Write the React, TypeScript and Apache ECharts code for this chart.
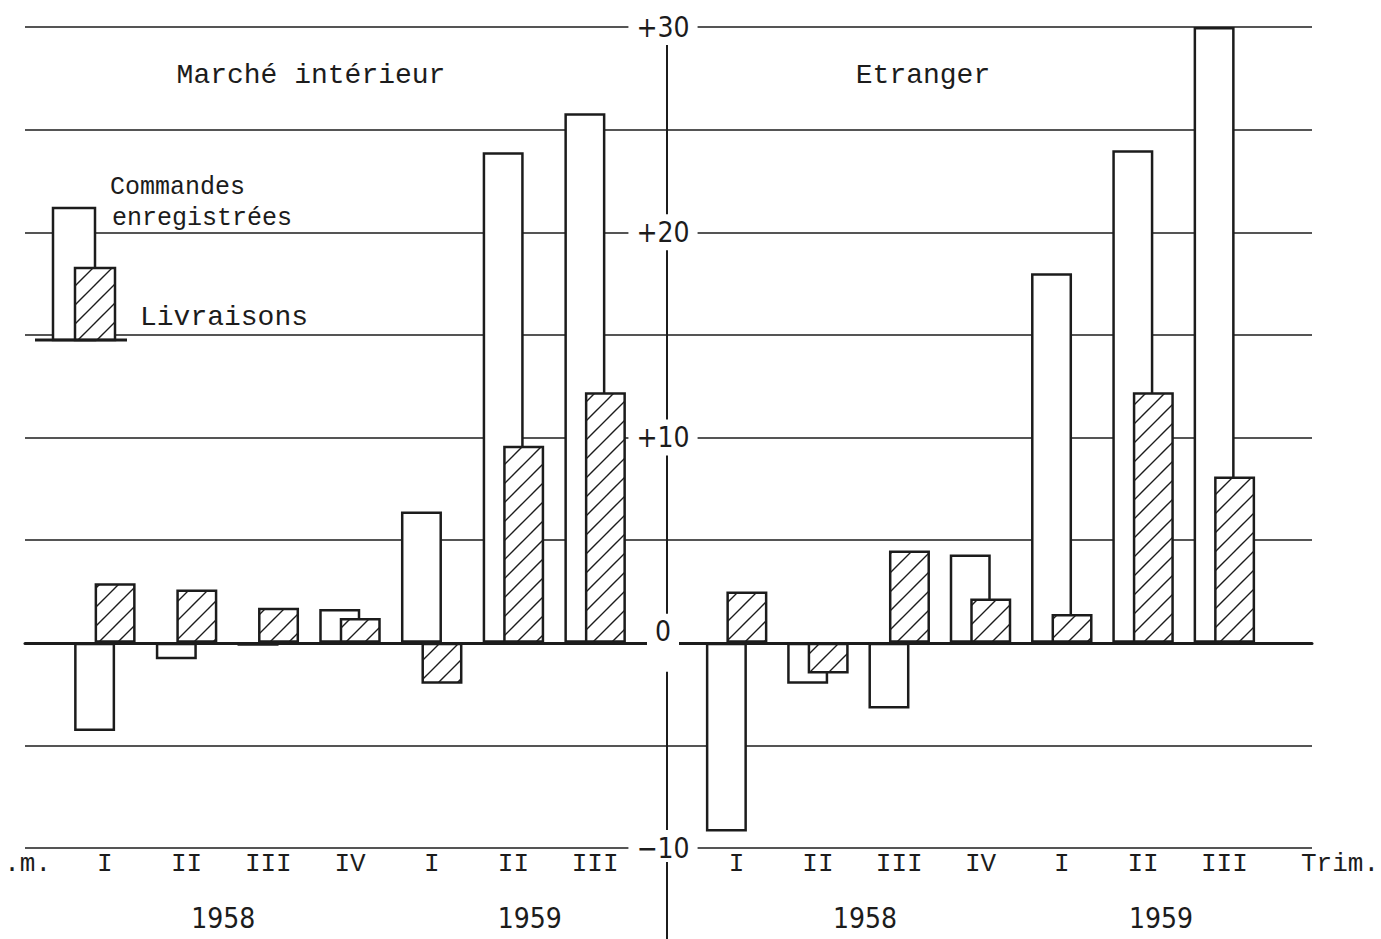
import React, { useEffect, useRef } from 'react';
import * as echarts from 'echarts';

// ---- data (values in %) ----
const quarterLabels = ['I', 'II', 'III', 'IV', 'I', 'II', 'III'];
const interieurCommandes = [-4.3, -0.8, -0.15, 1.65, 6.4, 23.9, 25.8];
const interieurLivraisons = [2.9, 2.6, 1.7, 1.2, -2.0, 9.6, 12.2];
const etrangerCommandes = [-9.2, -2.0, -3.2, 4.3, 18.0, 24.0, 30.0];
const etrangerLivraisons = [2.5, -1.5, 4.5, 2.15, 1.4, 12.2, 8.1];
const yearLabels = ['1958', '1959'];
const panelTitles = ['Marché intérieur', 'Etranger'];
const seriesNames = ['Commandes enregistrées', 'Livraisons'];
const legendLines = ['Commandes', 'enregistrées'];
const yMin = -10;
const yMax = 30;

const ink = '#1c1c1c';
const mono = "'Liberation Mono', 'DejaVu Sans Mono', monospace";
const narrow = "'Liberation Sans Narrow', 'DejaVu Sans Condensed', 'Liberation Sans', sans-serif";

function makeHatch(): HTMLCanvasElement {
  const s = 19;
  const c = document.createElement('canvas');
  c.width = s;
  c.height = s;
  const ctx = c.getContext('2d')!;
  ctx.fillStyle = '#ffffff';
  ctx.fillRect(0, 0, s, s);
  ctx.strokeStyle = ink;
  ctx.lineWidth = 1.4;
  ctx.beginPath();
  ctx.moveTo(-2, s + 2);
  ctx.lineTo(s + 2, -2);
  ctx.moveTo(-2, 2);
  ctx.lineTo(2, -2);
  ctx.moveTo(s - 2, s + 2);
  ctx.lineTo(s + 2, s - 2);
  ctx.stroke();
  return c;
}

export default function App() {
  const ref = useRef<HTMLDivElement>(null);

  useEffect(() => {
    if (!ref.current) return;
    const chart = echarts.init(ref.current, undefined, { renderer: 'svg' });
    const hatch = { image: makeHatch(), repeat: 'repeat' };

    const W = 1381;
    const top = 27;
    const bottom = 91;

    const catAxis = (gridIndex: number, extra: any) => ({
      gridIndex,
      type: 'category',
      data: quarterLabels,
      axisLine: { show: false, onZero: false },
      axisTick: { show: false },
      splitLine: { show: false },
      axisLabel: { fontFamily: mono, fontSize: 26, color: ink, margin: 3 },
      nameTextStyle: { fontFamily: mono, fontSize: 26, color: ink, verticalAlign: 'top', padding: [3, 0, 0, 0] },
      ...extra,
    });

    const hiddenY = (gridIndex: number) => ({ gridIndex, type: 'value', min: yMin, max: yMax, show: false });

    const barBase = {
      type: 'bar',
      barWidth: 41,
      barGap: '-50%',
    };

    const option: any = {
      animation: false,
      backgroundColor: '#ffffff',
      grid: [
        { left: 25, right: W - 1312, top, bottom, outerBoundsMode: 'none' },
        { left: 667, width: 1, top, bottom, outerBoundsMode: 'none' },
        { left: 64, width: 572, top, bottom, outerBoundsMode: 'none' },
        { left: 696, width: 569, top, bottom, outerBoundsMode: 'none' },
      ],
      xAxis: [
        {
          gridIndex: 0, type: 'value', min: 0, max: 1,
          axisLine: { show: true, onZero: true, lineStyle: { color: ink, width: 3 } },
          axisTick: { show: false }, axisLabel: { show: false }, splitLine: { show: false },
        },
        { gridIndex: 1, type: 'value', min: 0, max: 1, show: false },
        catAxis(2, { name: '.m.', nameLocation: 'start', nameGap: 13 }),
        catAxis(3, { name: 'Trim.', nameLocation: 'end', nameGap: 36 }),
      ],
      yAxis: [
        {
          gridIndex: 0, type: 'value', min: yMin, max: yMax, interval: 5,
          axisLine: { show: false }, axisTick: { show: false }, axisLabel: { show: false },
          splitLine: { show: true, lineStyle: { color: ink, width: 1.5 } },
        },
        {
          gridIndex: 1, type: 'value', min: yMin, max: yMax, interval: 10, z: 5,
          axisLine: { show: true, lineStyle: { color: ink, width: 2 } },
          axisTick: { show: false }, splitLine: { show: false },
          axisLabel: {
            align: 'center', margin: 4, fontFamily: narrow, fontSize: 28, color: ink,
            backgroundColor: '#ffffff', padding: [4, 8],
            formatter: (v: number) => (v === 0 ? '{z|0}' : v > 0 ? '+' + v : '\u2212' + Math.abs(v)),
            rich: { z: { fontFamily: narrow, fontSize: 28, color: ink, padding: [0, 0, 22, 0] } },
          },
        },
        hiddenY(2),
        hiddenY(3),
      ],
      series: [
        { ...barBase, name: seriesNames[0], xAxisIndex: 2, yAxisIndex: 2, data: interieurCommandes,
          itemStyle: { color: '#ffffff', borderColor: ink, borderWidth: 2.5 } },
        { ...barBase, name: seriesNames[1], xAxisIndex: 2, yAxisIndex: 2, data: interieurLivraisons,
          itemStyle: { color: hatch, borderColor: ink, borderWidth: 2.5 } },
        { ...barBase, name: seriesNames[0], xAxisIndex: 3, yAxisIndex: 3, data: etrangerCommandes,
          itemStyle: { color: '#ffffff', borderColor: ink, borderWidth: 2.5 } },
        { ...barBase, name: seriesNames[1], xAxisIndex: 3, yAxisIndex: 3, data: etrangerLivraisons,
          itemStyle: { color: hatch, borderColor: ink, borderWidth: 2.5 } },
      ],
    };

    chart.setOption(option);

    // derived positions from the library's scales
    const xOf = (axis: number, i: number) => chart.convertToPixel({ xAxisIndex: axis }, i) as number;
    const yBottom = chart.convertToPixel({ yAxisIndex: 1 }, yMin) as number;
    const yearPlacements = [
      { axis: 2, text: yearLabels[0], from: 1, to: 2, t: 0.45 },
      { axis: 2, text: yearLabels[1], from: 5, to: 6, t: 0.2 },
      { axis: 3, text: yearLabels[0], from: 1, to: 2, t: 0.58 },
      { axis: 3, text: yearLabels[1], from: 5, to: 6, t: 0.22 },
    ];
    const yearTexts = yearPlacements.map((p) => {
      const a = xOf(p.axis, p.from);
      const b = xOf(p.axis, p.to);
      return {
        type: 'text', z: 100,
        x: a + (b - a) * p.t, y: yBottom + 70,
        style: { text: p.text, fontFamily: narrow, fontSize: 28, fill: ink, align: 'center', verticalAlign: 'middle' },
      };
    });
    const midX = chart.convertToPixel({ xAxisIndex: 1 }, 0) as number;

    const textStyle = (text: string, align: string, size = 28) => ({
      text, fontFamily: mono, fontSize: size, fill: ink, align, verticalAlign: 'middle',
    });

    chart.setOption({
      graphic: [
        { type: 'text', z: 100, x: 311, y: 75, style: textStyle(panelTitles[0], 'center') },
        { type: 'text', z: 100, x: 923, y: 75, style: textStyle(panelTitles[1], 'center') },
        // legend sketch
        { type: 'rect', z: 100, shape: { x: 53, y: 208, width: 42, height: 132 },
          style: { fill: '#ffffff', stroke: ink, lineWidth: 2.5 } },
        { type: 'rect', z: 101, shape: { x: 75, y: 268, width: 40, height: 72 },
          style: { fill: hatch, stroke: ink, lineWidth: 2.5 } },
        { type: 'line', z: 102, shape: { x1: 35, y1: 340, x2: 127, y2: 340 },
          style: { stroke: ink, lineWidth: 3 } },
        { type: 'text', z: 100, x: 110, y: 187, style: textStyle(legendLines[0], 'left', 25) },
        { type: 'text', z: 100, x: 112, y: 218, style: textStyle(legendLines[1], 'left', 25) },
        { type: 'text', z: 100, x: 140, y: 317, style: textStyle(seriesNames[1], 'left') },
        // centre axis continues below the bottom grid line
        { type: 'line', z: 50, shape: { x1: midX, y1: yBottom + 14, x2: midX, y2: 939 },
          style: { stroke: ink, lineWidth: 2 } },
        ...yearTexts,
      ],
    });

    return () => chart.dispose();
  }, []);

  return (
    <div
      ref={ref}
      style={{ position: 'fixed', left: 0, top: 0, width: 1381, height: 939, background: '#fff' }}
    />
  );
}
